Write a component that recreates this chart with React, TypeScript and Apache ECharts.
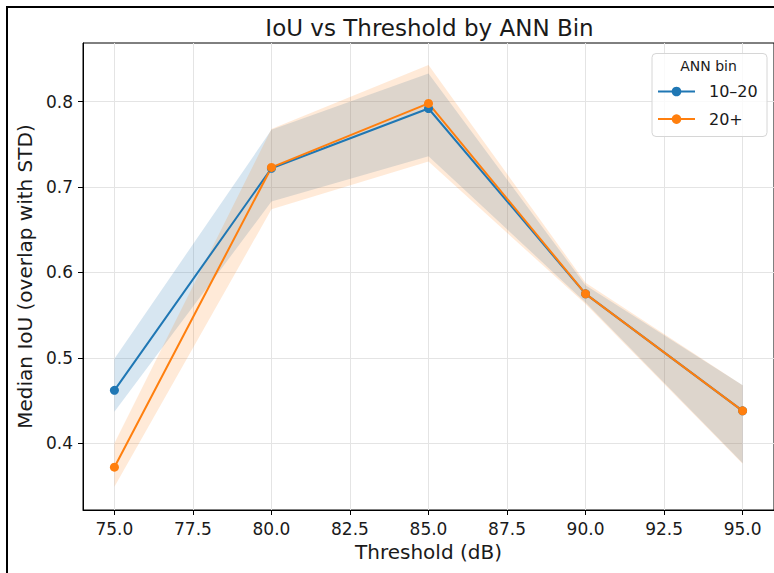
import React, { useEffect, useRef } from 'react';
import * as echarts from 'echarts';

const thresholds = [75, 80, 85, 90, 95];
const binNames = ['10–20', '20+'];
const median1020 = [0.462, 0.722, 0.792, 0.575, 0.438];
const lower1020 = [0.437, 0.683, 0.736, 0.565, 0.377];
const upper1020 = [0.499, 0.767, 0.833, 0.585, 0.468];
const median20p = [0.372, 0.723, 0.798, 0.575, 0.438];
const lower20p = [0.349, 0.674, 0.730, 0.563, 0.376];
const upper20p = [0.400, 0.768, 0.843, 0.588, 0.468];
const xTicks = [75, 77.5, 80, 82.5, 85, 87.5, 90, 92.5, 95];
const yTicks = [0.4, 0.5, 0.6, 0.7, 0.8];

const FONT = 'DejaVu Sans';
const BLUE = '#1f77b4';
const ORANGE = '#ff7f0e';

function bandSeries(name: string, lower: number[], upper: number[], fill: string) {
  return {
    name: name + '-band',
    type: 'custom',
    silent: true,
    z: 2,
    data: thresholds.map((t, i) => [t, lower[i], upper[i]]),
    encode: { x: 0, y: [1, 2] },
    renderItem: (params: any, api: any) => {
      if (params.dataIndex !== 0) return null;
      const top = thresholds.map((t, i) => api.coord([t, upper[i]]));
      const bot = thresholds.map((t, i) => api.coord([t, lower[i]])).reverse();
      return {
        type: 'polygon',
        shape: { points: [...top, ...bot] },
        style: { fill, stroke: 'none' },
      };
    },
  };
}

export default function App() {
  const ref = useRef<HTMLDivElement>(null);
  useEffect(() => {
    const chart = echarts.init(ref.current!, null, { renderer: 'svg' });
    const option: any = {
      animation: false,
      backgroundColor: '#fff',
      textStyle: { fontFamily: FONT },
      grid: {
        left: 83,
        top: 43,
        width: 693,
        height: 467,
        show: true,
        borderColor: '#000',
        borderWidth: 1,
        backgroundColor: 'transparent',
        containLabel: false,
      },
      xAxis: {
        type: 'value',
        min: 74,
        max: 96,
        name: 'Threshold (dB)',
        nameLocation: 'middle',
        nameGap: 30,
        nameTextStyle: { fontSize: 20, color: '#1a1a1a', fontFamily: FONT },
        axisLine: { show: true, lineStyle: { color: '#000', width: 1 } },
        axisTick: { show: true, length: 5, lineStyle: { color: '#000' }, customValues: xTicks },
        axisLabel: {
          customValues: xTicks,
          formatter: (v: number) => v.toFixed(1),
          fontSize: 17,
          color: '#1a1a1a',
          margin: 10,
          fontFamily: FONT,
        },
        splitLine: { show: true, lineStyle: { color: '#e4e4e4', width: 1 } },
      },
      yAxis: {
        type: 'value',
        min: 0.3219,
        max: 0.8687,
        name: 'Median IoU (overlap with STD)',
        nameLocation: 'middle',
        nameGap: 45,
        nameTextStyle: { fontSize: 20, color: '#1a1a1a', fontFamily: FONT },
        axisLine: { show: true, lineStyle: { color: '#000', width: 1 } },
        axisTick: { show: true, length: 5, lineStyle: { color: '#000' }, customValues: yTicks },
        axisLabel: {
          customValues: yTicks,
          formatter: (v: number) => v.toFixed(1),
          fontSize: 17,
          color: '#1a1a1a',
          margin: 10,
          fontFamily: FONT,
        },
        splitLine: { show: true, lineStyle: { color: '#e4e4e4', width: 1 } },
      },
      legend: {
        data: binNames,
        orient: 'vertical',
        left: 657,
        top: 83.5,
        padding: 0,
        itemWidth: 37,
        itemHeight: 12,
        itemGap: 11.6,
        z: 10,
        textStyle: { fontSize: 16, color: '#1a1a1a', fontFamily: FONT, padding: [0, 0, 0, 9] },
        selectedMode: false,
      },
      graphic: [
        {
          type: 'rect',
          shape: { x: 7, y: 7, width: 900, height: 700 },
          style: { stroke: '#000', lineWidth: 2, fill: 'none' },
          silent: true,
          z: 100,
        },
        {
          type: 'text',
          x: 429.5,
          y: 28,
          style: {
            text: 'IoU vs Threshold by ANN Bin',
            fontSize: 23,
            fontFamily: FONT,
            fill: '#1a1a1a',
            align: 'center',
            verticalAlign: 'middle',
          },
        },
        {
          type: 'rect',
          shape: { x: 652, y: 53.5, width: 115, height: 83, r: 4 },
          style: { stroke: '#d6d6d6', lineWidth: 1, fill: 'rgba(255,255,255,0.8)' },
          z: 5,
          silent: true,
        },
        {
          type: 'text',
          x: 708.5,
          y: 66,
          z: 6,
          style: {
            text: 'ANN bin',
            fontSize: 14,
            fontFamily: FONT,
            fill: '#1a1a1a',
            align: 'center',
            verticalAlign: 'middle',
          },
        },
      ],
      series: [
        bandSeries(binNames[0], lower1020, upper1020, 'rgba(31,119,180,0.18)'),
        {
          name: binNames[0],
          type: 'line',
          data: thresholds.map((t, i) => [t, median1020[i]]),
          symbol: 'circle',
          symbolSize: 9,
          color: BLUE,
          lineStyle: { color: BLUE, width: 2 },
          itemStyle: { color: BLUE },
          z: 3,
        },
        bandSeries(binNames[1], lower20p, upper20p, 'rgba(255,127,14,0.16)'),
        {
          name: binNames[1],
          type: 'line',
          data: thresholds.map((t, i) => [t, median20p[i]]),
          symbol: 'circle',
          symbolSize: 9,
          color: ORANGE,
          lineStyle: { color: ORANGE, width: 2 },
          itemStyle: { color: ORANGE },
          z: 3,
        },
      ],
    };
    chart.setOption(option);
    return () => chart.dispose();
  }, []);
  return (
    <div
      ref={ref}
      style={{ position: 'fixed', left: 0, top: 0, width: 774, height: 573, background: '#fff' }}
    />
  );
}
